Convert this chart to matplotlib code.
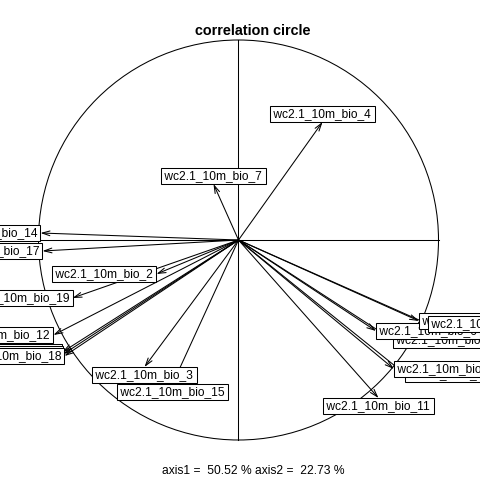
import matplotlib
matplotlib.use('Agg')
import matplotlib.pyplot as plt
from matplotlib.patches import Rectangle, Circle

plt.rcParams['font.family'] = ['Liberation Sans', 'DejaVu Sans']

# variable loadings on the first two axes
labels = ['wc2.1_10m_bio_1', 'wc2.1_10m_bio_2', 'wc2.1_10m_bio_3', 'wc2.1_10m_bio_4',
          'wc2.1_10m_bio_5', 'wc2.1_10m_bio_6', 'wc2.1_10m_bio_7', 'wc2.1_10m_bio_8',
          'wc2.1_10m_bio_9', 'wc2.1_10m_bio_10', 'wc2.1_10m_bio_11', 'wc2.1_10m_bio_12',
          'wc2.1_10m_bio_13', 'wc2.1_10m_bio_14', 'wc2.1_10m_bio_15', 'wc2.1_10m_bio_16',
          'wc2.1_10m_bio_17', 'wc2.1_10m_bio_18', 'wc2.1_10m_bio_19']
axis1 = [0.7725, -0.41, -0.47, 0.42, 0.8325, 0.6875, -0.125, 0.9025, 0.9475, 0.7775,
         0.70, -0.925, -0.88, -0.99, -0.33, -0.875, -0.98, -0.87, -0.83]
axis2 = [-0.50, -0.17, -0.635, 0.59, -0.67, -0.455, 0.28, -0.405, -0.42, -0.645,
         -0.79, -0.475, -0.56, 0.035, -0.72, -0.57, -0.055, -0.58, -0.29]
inertia = [50.52, 22.73]

scale = 200.0   # pixels per unit of correlation
cx0, cy0 = 238.5, 240.0

fig = plt.figure(figsize=(4.8, 4.8), dpi=100)
ax = fig.add_axes([0, 0, 1, 1])
ax.set_xlim(-cx0 / scale, (480 - cx0) / scale)
ax.set_ylim(-(480 - cy0) / scale, cy0 / scale)
ax.axis('off')

lw = 0.75
ax.add_patch(Circle((0, 0), 1, fill=False, lw=lw, color='black', zorder=1))
ax.plot([-1, 1], [0, 0], color='black', lw=lw, zorder=1)
ax.plot([0, 0], [-1, 1], color='black', lw=lw, zorder=1)

for x, y in zip(axis1, axis2):
    ax.annotate('', xy=(x, y), xytext=(0, 0),
                arrowprops=dict(arrowstyle='->,head_length=0.55,head_width=0.17',
                                lw=lw, color='black', shrinkA=0, shrinkB=0),
                zorder=2)

renderer = fig.canvas.get_renderer()
box_h = 16.0 / scale
for i, (lab, x, y) in enumerate(zip(labels, axis1, axis2)):
    t = ax.text(0, 0, ' ' + lab + ' ', fontsize=8.64, ha='center',
                va='baseline', zorder=4 + 2 * i)
    w = t.get_window_extent(renderer).width / scale
    if x > y and x > -y:
        bx, by = x + w / 2, y
    elif x > y and x <= -y:
        bx, by = x, y - box_h / 2
    elif x <= y and x <= -y:
        bx, by = x - w / 2, y
    else:
        bx, by = x, y + box_h / 2
    t.set_position((bx, by - 3.5 / scale))
    ax.add_patch(Rectangle((bx - w / 2, by - box_h / 2), w, box_h,
                           facecolor='white', edgecolor='black', lw=lw,
                           zorder=3 + 2 * i))

fig.text(253 / 480, 1 - 31 / 480, 'correlation circle', fontsize=10.4,
         fontweight='bold', ha='center', va='center')
fig.text(253 / 480, 1 - 471 / 480,
         f'axis1 =  {inertia[0]:.2f} % axis2 =  {inertia[1]:.2f} %',
         fontsize=8.64, ha='center', va='center')

fig.savefig('out.png', dpi=100)
